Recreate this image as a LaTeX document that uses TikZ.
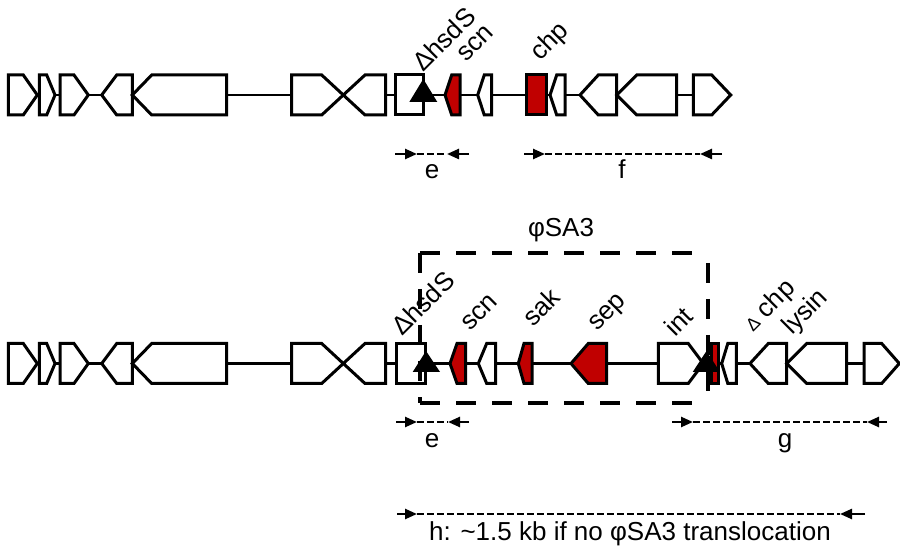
\documentclass[tikz,border=0pt]{standalone}
\usepackage{fontspec}
\setmainfont{Liberation Sans}
\usetikzlibrary{arrows.meta}
\definecolor{genered}{RGB}{192,0,0}
\newcommand{\genR}[4]{\draw[gene,fill=#4] (#1,-20) -- (#2,-20) -- (#3,0) -- (#2,20) -- (#1,20) -- cycle;}
\newcommand{\genL}[4]{\draw[gene,fill=#4] (#1,0) -- (#2,-20) -- (#3,-20) -- (#3,20) -- (#2,20) -- cycle;}
\newcommand{\genBox}[3]{\draw[gene,fill=#3] (#1,-20) rectangle (#2,20);}
\newcommand{\primerpair}[6]{%
  \coordinate (#1a) at (#3,#2); \coordinate (#1b) at (#4,#2);
  \coordinate (#1c) at (#5,#2); \coordinate (#1d) at (#6,#2);
  \draw[primer,-{Triangle[length=12pt,width=10pt]}] (#1a) -- (#1b);
  \draw[primer,dash pattern=on 6.5pt off 3.5pt] (#1b) -- (#1c);
  \draw[primer,-{Triangle[length=12pt,width=10pt]}] (#1d) -- (#1c);}
\newcommand{\leftgenes}{%
  \genR{8.3}{23.3}{37.3}{white}
  \genR{39.3}{46.7}{55}{white}
  \genR{60}{74}{88.3}{white}
  \genL{101.7}{116.7}{132.3}{white}
  \genL{132.3}{151.7}{226.7}{white}
  \genR{291.7}{321.7}{343.3}{white}
  \genL{343.3}{365}{385.7}{white}}
\begin{document}
\begin{tikzpicture}[x=1pt,y=-1pt,
  gene/.style={line width=3pt,line join=miter,miter limit=3},
  backbone/.style={line width=2.7pt},
  primer/.style={line width=2.4pt},
  lbl/.style={font=\fontsize{26}{30}\selectfont,inner sep=0pt},
  glbl/.style={lbl,anchor=base west,rotate=45},
  boxdash/.style={line width=4.6pt,dash pattern=on 20pt off 16pt}]
\useasboundingbox (0,0) rectangle (900,553);
% ---------- top row ----------
\begin{scope}[shift={(0,95)}]
  \draw[backbone] (8,0) -- (731,0);
  \leftgenes
  \genBox{395.7}{423.3}{white}
  \fill (409.3,7) -- (437.3,7) -- (423.3,-16) -- cycle;
  \genL{445}{451.7}{460}{genered}
  \genL{477.7}{484.3}{491.7}{white}
  \genBox{526.7}{546.7}{genered}
  \genL{550}{556.7}{565}{white}
  \genL{580}{598.3}{616.7}{white}
  \genL{616.7}{636.7}{676.7}{white}
  \genR{693.3}{711.7}{730.7}{white}
\end{scope}
\node[glbl] (thsd) at (423,73) {ΔhsdS};
\node[glbl] (tscn) at (466,63) {scn};
\node[glbl] (tchp) at (540,62) {chp};
\primerpair{pe}{154}{395}{417}{447}{469}
\primerpair{pf}{154}{524}{545}{700}{722}
\node[lbl,anchor=base] (le1) at (432,179) {e};
\node[lbl,anchor=base] (lf) at (622,179) {f};
% ---------- bottom row ----------
\begin{scope}[shift={(0,363.5)}]
  \draw[backbone] (8,0) -- (899,0);
  \leftgenes
  \genBox{396}{425}{white}
  \fill (412.7,8.5) -- (440,8.5) -- (426,-12.5) -- cycle;
  \genL{450}{457}{465.5}{genered}
  \genL{478.3}{486.7}{495.5}{white}
  \genL{518.3}{524}{532}{genered}
  \genL{571}{588.3}{606.7}{genered}
  \genR{658.3}{688.3}{703.3}{white}
  \genBox{711.5}{718}{genered}
  \fill (692.7,8.5) -- (720,8.5) -- (706.5,-12.5) -- cycle;
  \genL{721.7}{727.8}{736.4}{white}
  \genL{750}{768.3}{786.7}{white}
  \genL{786.7}{806.7}{846.7}{white}
  \genR{864}{881.7}{899.3}{white}
\end{scope}
% phage box
\coordinate (bxA) at (420,253); \coordinate (bxB) at (702,253);
\coordinate (bxC) at (708,263); \coordinate (bxD) at (708,397);
\coordinate (bxE) at (420,403); \coordinate (bxF) at (697,403);
\draw[boxdash] (bxA) -- (bxB);
\draw[boxdash] (bxA) -- (bxE);
\draw[boxdash] (bxE) -- (bxF);
\draw[boxdash] (bxC) -- (bxD);
\node[lbl,anchor=base] (phi) at (561,237) {φSA3};
\node[glbl] (bhsd) at (402,337) {ΔhsdS};
\node[glbl] (bscn) at (470,332) {scn};
\node[glbl] (bsak) at (533,328) {sak};
\node[glbl] (bsep) at (597,332) {sep};
\node[glbl] (bint) at (675,338) {int};
\node[glbl] (bchp) at (753,333) {{\fontsize{18}{20}\selectfont Δ} chp};
\node[glbl] (blys) at (792,336) {lysin};
\primerpair{pe2}{422}{396}{417}{448}{469}
\primerpair{pg}{422}{672}{693}{867}{887}
\node[lbl,anchor=base] (le2) at (432,447) {e};
\node[lbl,anchor=base] (lg) at (785,447) {g};
\primerpair{ph}{514}{397}{417}{840}{865}
\node[lbl,anchor=base] (lh) at (630,540) {h: \textasciitilde1.5 kb if no φSA3 translocation};
\end{tikzpicture}
\end{document}
